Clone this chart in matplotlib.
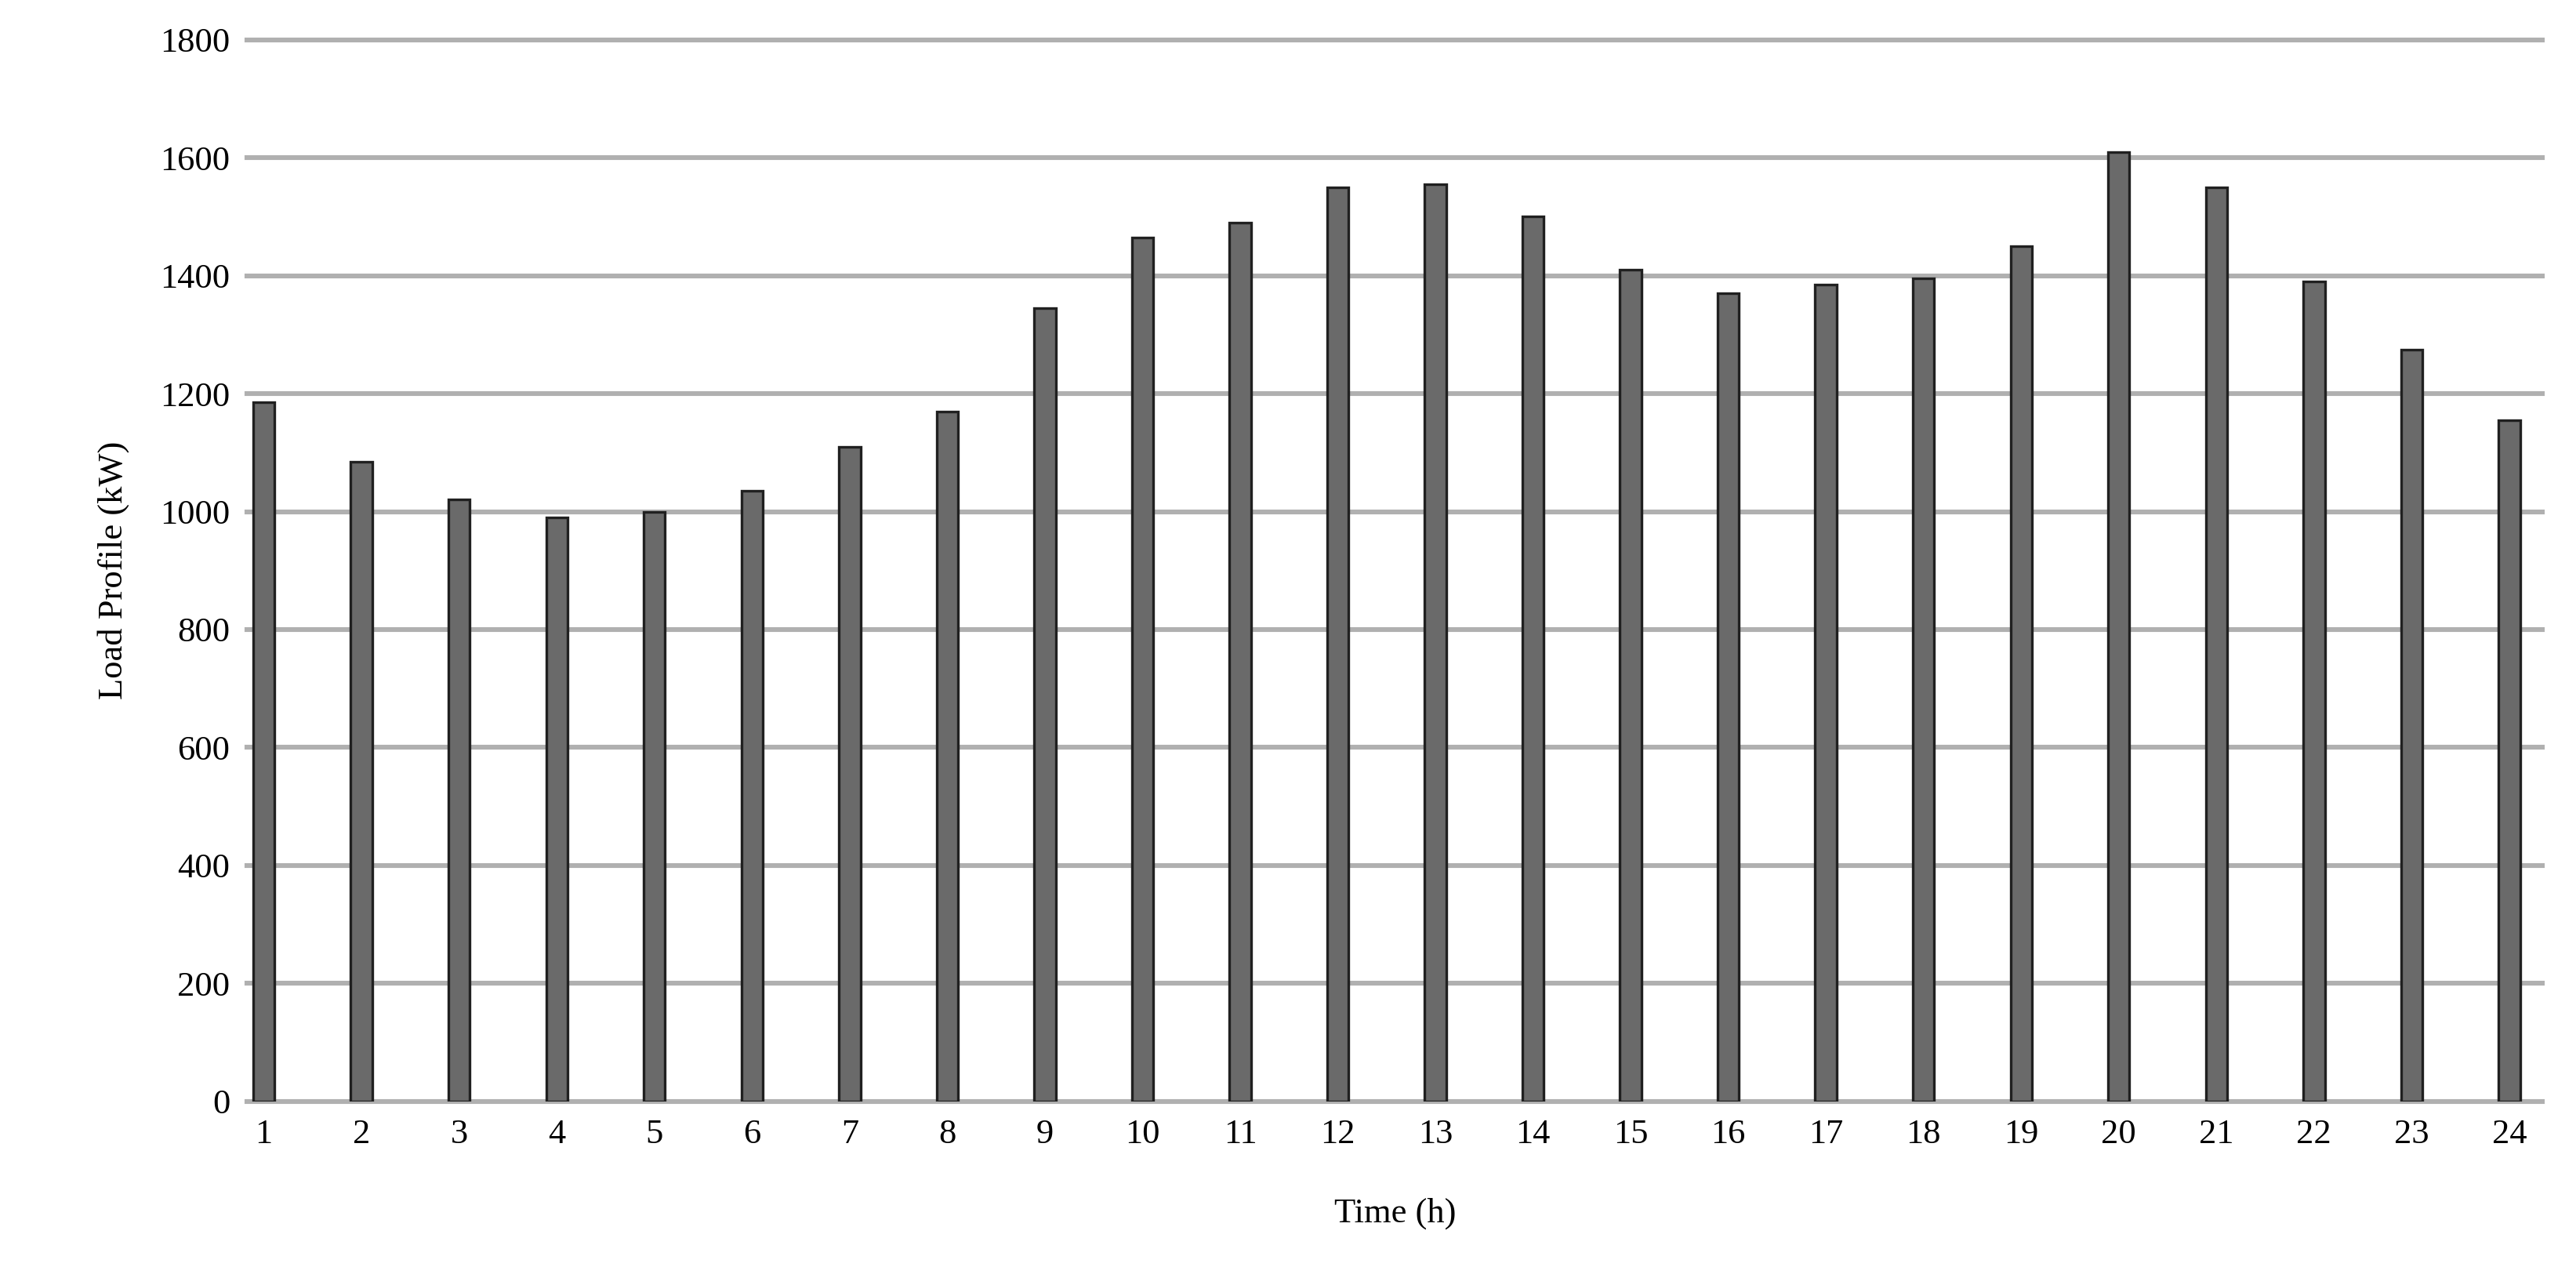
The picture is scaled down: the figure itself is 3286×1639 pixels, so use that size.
import matplotlib.pyplot as plt

hours = list(range(1, 25))
load_kw = [1185, 1085, 1020, 990, 1000, 1035, 1110, 1170, 1345, 1465, 1490, 1550,
           1555, 1500, 1410, 1370, 1385, 1395, 1450, 1610, 1550, 1390, 1275, 1155]
y_ticks = list(range(0, 1801, 200))

plt.rcParams['font.family'] = ['Liberation Serif', 'DejaVu Serif']

fig = plt.figure(figsize=(16.43, 8.195), dpi=200)
ax = fig.add_axes([0.096, 0.143, 0.891, 0.826])

ax.bar(hours, load_kw, width=0.22, color='#6a6a6a', edgecolor='#202020', linewidth=1.2, zorder=3)

ax.set_xlim(0.83, 24.34)
ax.set_ylim(0, 1800)
ax.set_yticks(y_ticks)
ax.set_xticks(hours)
ax.grid(axis='y', color='#b0b0b0', linewidth=2.2, zorder=0)
for line in ax.get_ygridlines():
    line.set_clip_on(False)
for s in ax.spines.values():
    s.set_visible(False)
ax.tick_params(length=0, labelsize=16, pad=8)
ax.set_xlabel('Time (h)', fontsize=16, labelpad=22)
ax.set_ylabel('Load Profile (kW)', fontsize=16, labelpad=14)

fig.savefig('out.png', dpi=200)
